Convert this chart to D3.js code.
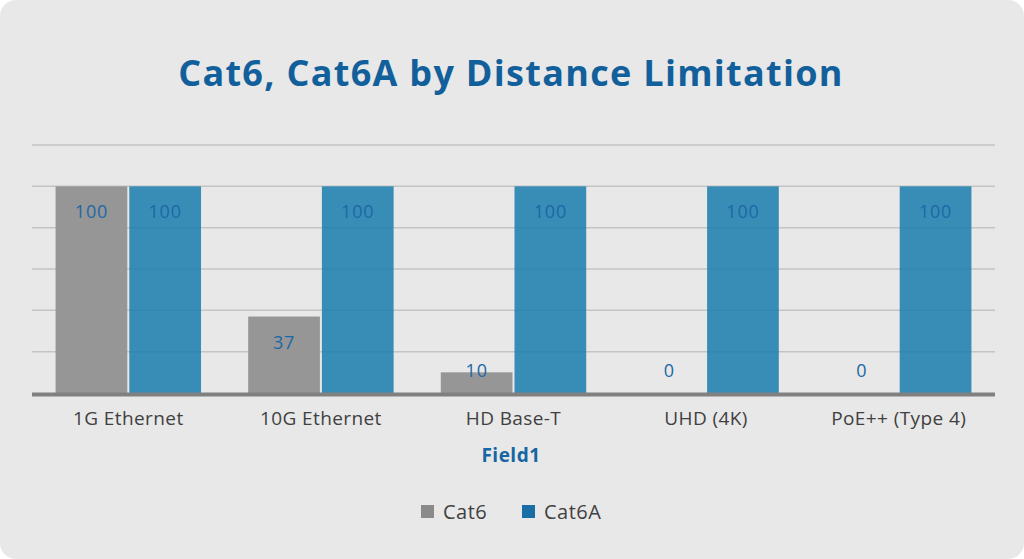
<!DOCTYPE html>
<html>
  <head>
    <script src="https://d3js.org/d3.v7.min.js"></script>
    <style>
      body { margin: 0; background: #fff; }
      text { font-family: "Open Sans", Lato, sans-serif; }
    </style>
  </head>
  <body>
    <script>

    const categories = ["1G Ethernet", "10G Ethernet", "HD Base-T", "UHD (4K)", "PoE++ (Type 4)"];
    const seriesNames = ["Cat6", "Cat6A"];
    const cat6 = [100, 37, 10, 0, 0];
    const cat6a = [100, 100, 100, 100, 100];
    const gridTicks = [0, 20, 40, 60, 80, 100, 120];

    const width = 1024;
    const height = 559;
    const margin = { top: 145, right: 29, bottom: 166, left: 32 };

    const colors = { Cat6: "#969696", Cat6A: "#1f7fae" };

    const svg = d3.select("body").append("svg")
        .attr("width", width)
        .attr("height", height);

    // panel
    svg.append("rect")
        .attr("width", width)
        .attr("height", height)
        .attr("rx", 16)
        .attr("fill", "#e8e8e8");

    svg.append("text")
        .attr("x", 511)
        .attr("y", 86)
        .attr("text-anchor", "middle")
        .attr("fill", "#11609b")
        .style("font-size", "36px")
        .style("font-weight", "bold")
        .style("letter-spacing", "1.3px")
        .text("Cat6, Cat6A by Distance Limitation");

    const x0 = d3.scaleBand()
        .domain(categories)
        .range([margin.left, width - margin.right]);

    const x1 = d3.scaleBand()
        .domain(seriesNames)
        .range([0, x0.bandwidth()])
        .paddingInner(0.027)
        .paddingOuter(0.32);

    const y = d3.scaleLinear()
        .domain([0, 120])
        .range([height - margin.bottom, margin.top]);

    svg.append("g")
      .selectAll("line")
      .data(gridTicks.filter(d => d > 0))
      .join("line")
        .attr("x1", margin.left)
        .attr("x2", width - margin.right)
        .attr("y1", d => y(d))
        .attr("y2", d => y(d))
        .attr("stroke", "#c4c4c4")
        .attr("stroke-width", 1.5);

    const rows = categories.map((c, i) => ({
      cat: c,
      values: [
        { key: "Cat6", value: cat6[i] },
        { key: "Cat6A", value: cat6a[i] }
      ]
    }));

    const groups = svg.append("g")
      .selectAll("g")
      .data(rows)
      .join("g")
        .attr("transform", d => `translate(${x0(d.cat)},0)`);

    groups.selectAll("rect")
      .data(d => d.values)
      .join("rect")
        .attr("x", d => x1(d.key))
        .attr("width", x1.bandwidth())
        .attr("y", d => y(d.value))
        .attr("height", d => y(0) - y(d.value))
        .attr("fill", d => colors[d.key])
        .attr("fill-opacity", d => d.key == "Cat6A" ? 0.88 : 1);

    groups.selectAll("text")
      .data(d => d.values)
      .join("text")
        .attr("x", d => x1(d.key) + x1.bandwidth() / 2)
        .attr("y", d => Math.min(y(d.value) + 32, y(0) - 16))
        .attr("text-anchor", "middle")
        .attr("fill", "#1c68a6")
        .style("font-size", "18px")
        .style("letter-spacing", "0.8px")
        .text(d => d.value);

    // baseline
    svg.append("line")
        .attr("x1", margin.left)
        .attr("x2", width - margin.right)
        .attr("y1", y(0) + 1.5)
        .attr("y2", y(0) + 1.5)
        .attr("stroke", "#808080")
        .attr("stroke-width", 4);

    svg.append("g")
      .selectAll("text")
      .data(categories)
      .join("text")
        .attr("x", d => x0(d) + x0.bandwidth() / 2)
        .attr("y", 425)
        .attr("text-anchor", "middle")
        .attr("fill", "#404040")
        .style("font-size", "19px")
        .style("letter-spacing", "0.4px")
        .text(d => d);

    svg.append("text")
        .attr("x", 511)
        .attr("y", 462)
        .attr("text-anchor", "middle")
        .attr("fill", "#1666a3")
        .style("font-size", "19px")
        .style("font-weight", "bold")
        .style("letter-spacing", "0.5px")
        .text("Field1");

    // legend
    const legend = svg.append("g")
      .selectAll("g")
      .data(seriesNames)
      .join("g")
        .attr("transform", (d, i) => `translate(${421 + i * 101},505)`);

    legend.append("rect")
        .attr("width", 13)
        .attr("height", 13)
        .attr("fill", d => d == "Cat6" ? "#8a8a8a" : "#1a6ea6");

    legend.append("text")
        .attr("x", 22)
        .attr("y", 14)
        .attr("fill", "#404040")
        .style("font-size", "20px")
        .style("letter-spacing", "0.5px")
        .text(d => d);

    </script>
  </body>
</html>
